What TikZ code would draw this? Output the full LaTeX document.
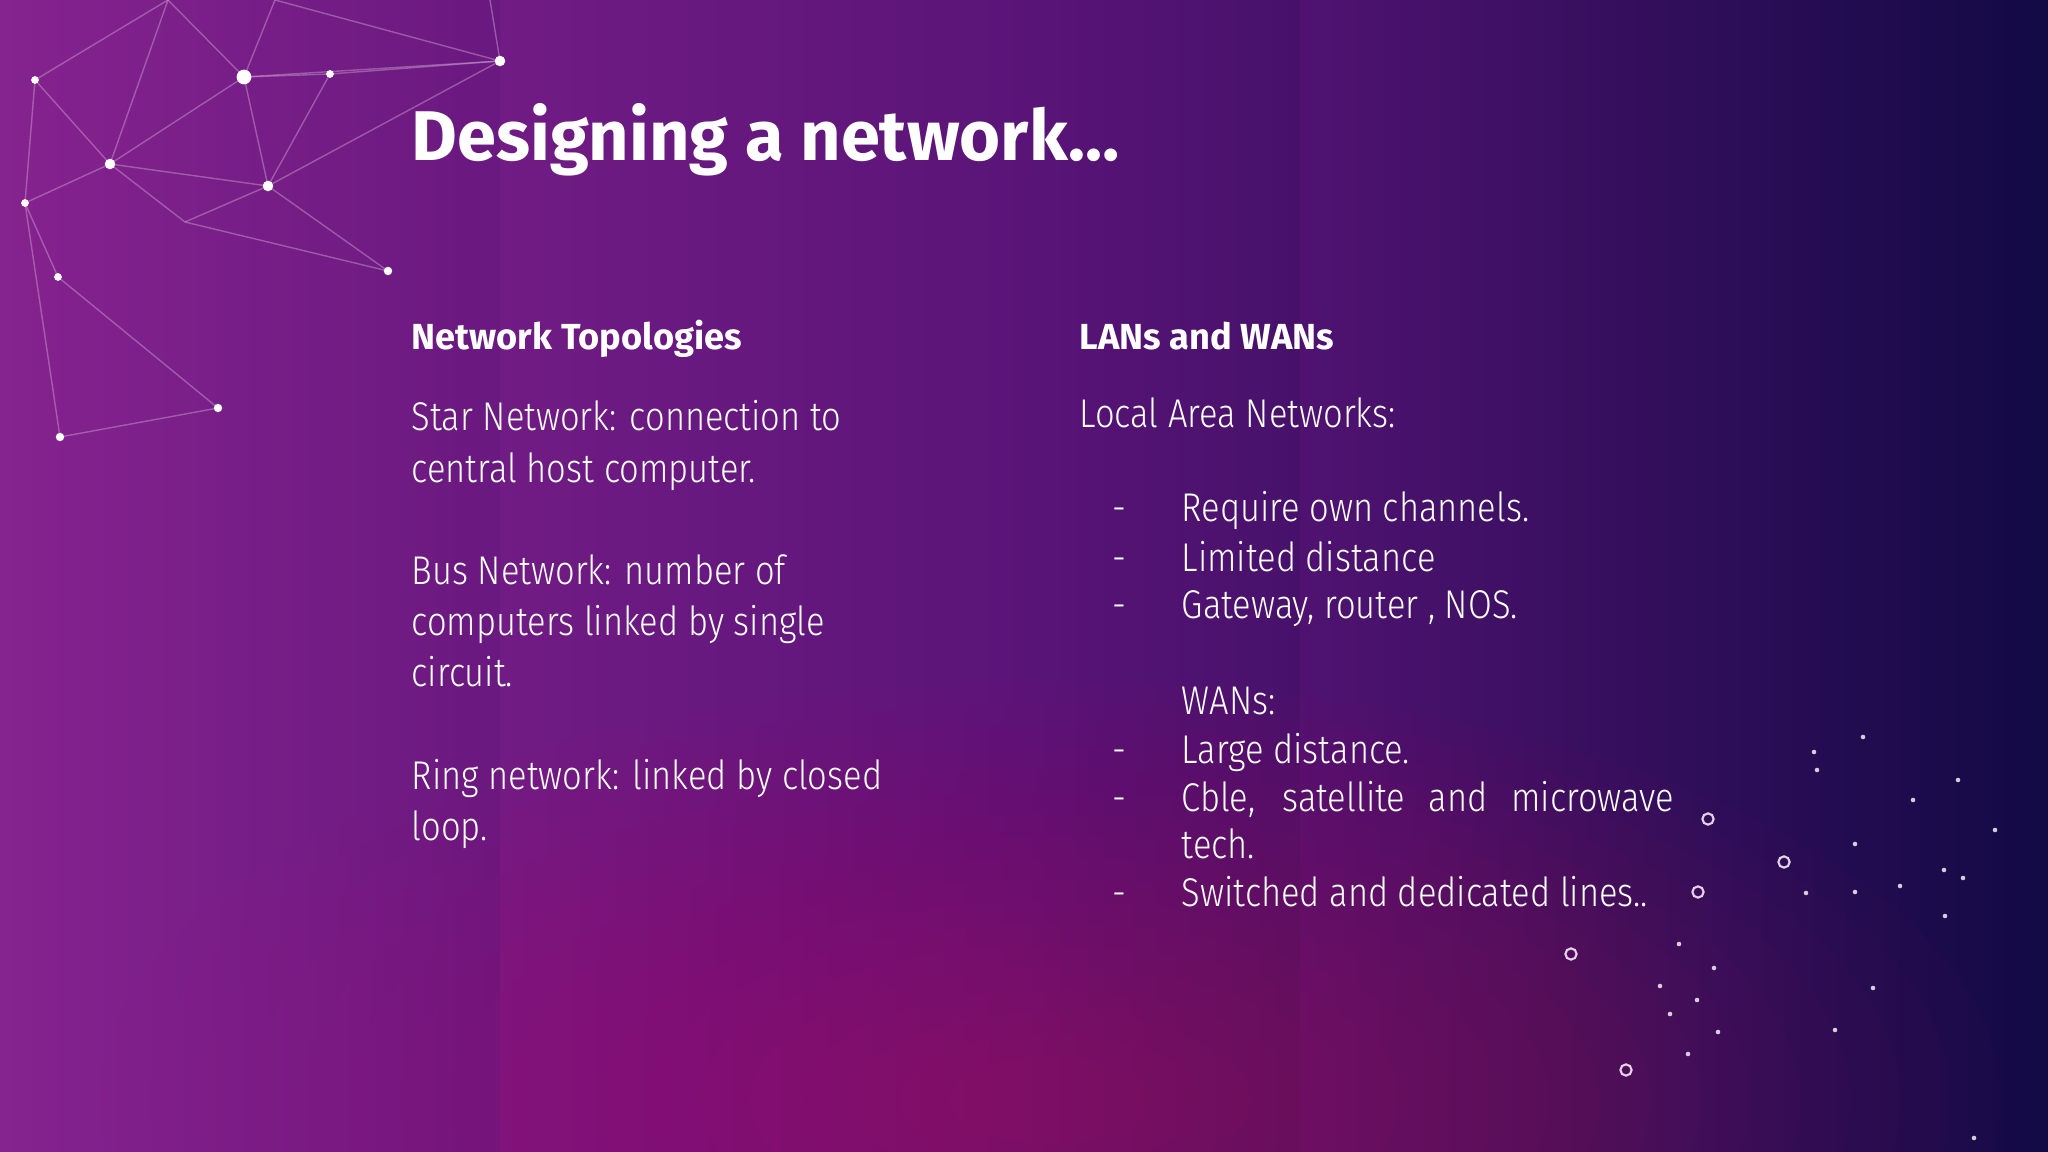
\documentclass[tikz,border=0pt]{standalone}
\usepackage{fontspec}
\setmainfont{Fira Sans}
\newfontfamily\light[FakeStretch=0.86]{Fira Sans Light}
\usetikzlibrary{shadings}
\definecolor{pL}{HTML}{86238F}
\definecolor{pM}{HTML}{5A1478}
\definecolor{pR}{HTML}{120A45}
\tikzset{
 body/.style={anchor=base west,text=white,font=\light\fontsize{11.4}{13}\selectfont,inner sep=0},
 head/.style={anchor=base west,text=white,font=\bfseries\fontsize{10.3}{12}\selectfont,inner sep=0},
 net/.style={draw=white!60!pL,opacity=0.45,line width=0.4pt},
 dot/.style={fill=white,circle,inner sep=0,minimum size=#1},
 ring/.style={draw=white!80!pL,circle,line width=0.6pt,inner sep=0,minimum size=#1}
}
\begin{document}
\begin{tikzpicture}[x=0.01cm,y=-0.01cm]
\useasboundingbox (0,0) rectangle (2048,1152);
\shade[left color=pL,right color=pR,middle color=pM] (0,0) rectangle (2048,1152);
\shade[left color=pR,right color=pR,opacity=0] (0,0) rectangle (1,1);
\begin{scope}
\clip (0,0) rectangle (2048,1152);
\shade[left color=pM,right color=pR,opacity=0.5] (1300,0) rectangle (2048,1152);
\foreach \r in {760,720,...,80}
 \fill[magenta!50!red,opacity=0.018] (1050,1100) ellipse (\r*1.25 and \r*0.55);
\end{scope}
\shade[left color=pL,right color=pM,opacity=0.3] (0,0) rectangle (500,1152);
% network top-left
\foreach \n/\x/\y in {a/35/80,b/110/164,c/244/77,d/268/186,e/330/74,f/500/61,g/25/203,h/58/277,i/388/271,j/60/437,k/218/408,l/168/0,m/275/0,n/490/0,o/185/222}
 \coordinate (\n) at (\x,\y);
\foreach \p/\q in {a/b,b/c,c/d,b/d,c/e,e/f,c/f,d/f,a/l,b/l,c/l,c/m,m/f,n/f,d/o,o/b,g/b,h/g,d/i,o/i,h/k,k/j,j/g,e/d,a/g}
 \draw[net] (\p) -- (\q);
\foreach \n/\s in {a/2.2,b/3,c/4.2,d/3,e/2.2,f/3,g/2.2,h/2.2,i/2.4,j/2.4,k/2.4}
 \node[dot=\s pt] at (\n) {};
% dots bottom right
\foreach \x/\y in {1814/752,1817/770,1863/737,1958/780,1913/800,1995/830,1855/844,1855/892,1900/886,1945/916,1963/878,1806/893,1873/988,1944/870,1679/944,1714/968,1660/986,1697/1000,1718/1032,1670/1014,1688/1054,1835/1030,1974/1138}
 \node[dot=1.3pt,opacity=0.8] at (\x,\y) {};
\foreach \x/\y in {1708/819,1784/862,1698/892,1571/954,1626/1070}
 \node[ring=3.2pt] at (\x,\y) {};
% title
\node[anchor=base west,text=white,inner sep=0,font=\bfseries\fontsize{20}{24}\selectfont] (title) at (411,161) {Designing a network…};
% left
\node[head] (h1) at (411,350) {Network Topologies};
\node[body] (l1) at (411,431) {Star Network: connection to};
\node[body] (l2) at (411,482) {central host computer.};
\node[body] (l3) at (411,584) {Bus Network: number of};
\node[body] (l4) at (411,635) {computers linked by single};
\node[body] (l5) at (411,686) {circuit.};
\node[body] (l6) at (411,789) {Ring network: linked by closed};
\node[body] (l7) at (411,840) {loop.};
% right
\node[head] (h2) at (1079,350) {LANs and WANs};
\node[body] (r0) at (1079,428) {Local Area Networks:};
\foreach \y/\t in {522/Require own channels.,571/Limited distance,619/{Gateway, router , NOS.},763/Large distance.,906/Switched and dedicated lines..}{
 \node[body] at (1112,\y) {-};
 \node[body] at (1181,\y) {\t};}
\node[body] (w) at (1181,715) {WANs:};
\node[body] at (1112,811) {-};
\node[body] (c1) at (1181,811) {\makebox[4.92cm][s]{Cble, satellite and microwave}};
\node[body] (c2) at (1181,858) {tech.};
\end{tikzpicture}
\end{document}
